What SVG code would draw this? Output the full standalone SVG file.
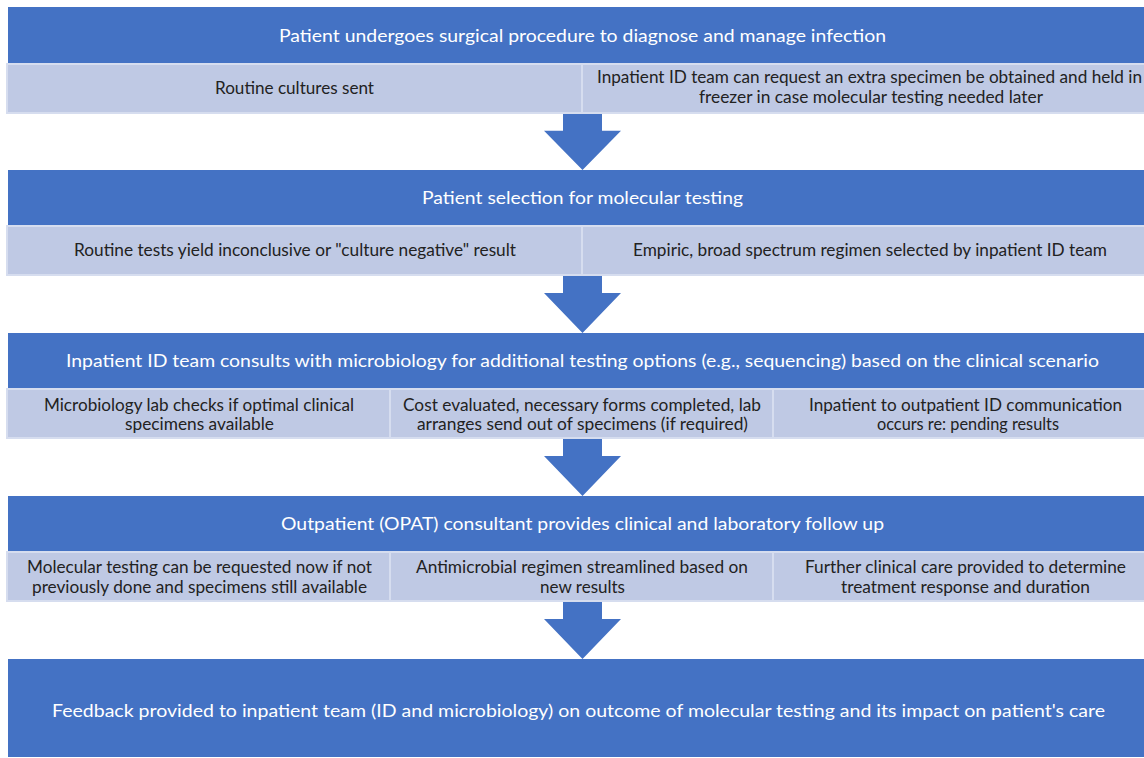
<svg xmlns="http://www.w3.org/2000/svg" width="1144" height="758" viewBox="0 0 1144 758">
  <style>
    .head { fill: #4472c4; }
    .cell { fill: #bfc9e4; stroke: #d6ddef; stroke-width: 2; }
    .ht { font-family: Lato, "Liberation Sans", sans-serif; font-size: 18px; fill: #ffffff; text-anchor: middle; }
    .ct { font-family: Lato, "Liberation Sans", sans-serif; font-size: 16.5px; fill: #222222; text-anchor: middle; }
    .arrow { fill: #4472c4; }
  </style>
  <defs>
    <!-- block arrow: shaft 39 wide, head 78 wide, total length 58 -->
    <path id="down" d="M -19.5 0 H 19.5 V 18 H 38.5 L 0 58 L -38.5 18 H -19.5 Z"/>
  </defs>
  <rect width="1144" height="758" fill="#ffffff"/>

  <!-- connectors -->
  <g id="connectors" class="arrow">
    <use href="#down" transform="translate(582.5,113) scale(1,0.983)"/>
    <use href="#down" transform="translate(582.5,275)"/>
    <use href="#down" transform="translate(582.5,438)"/>
    <use href="#down" transform="translate(582.5,601)"/>
  </g>

  <!-- step 1 -->
  <g id="step1">
    <rect class="head" x="8" y="7" width="1150" height="56"/>
    <text class="ht" x="582.5" y="41.5" textLength="607" lengthAdjust="spacingAndGlyphs">Patient undergoes surgical procedure to diagnose and manage infection</text>
  </g>
  <g id="step1-cultures">
    <rect class="cell" x="7" y="64" width="575" height="49"/>
    <text class="ct" x="294.5" y="94" textLength="159" lengthAdjust="spacingAndGlyphs">Routine cultures sent</text>
  </g>
  <g id="step1-freezer">
    <rect class="cell" x="582" y="64" width="580" height="49"/>
    <text class="ct" x="869.5" y="83" textLength="545" lengthAdjust="spacingAndGlyphs">Inpatient ID team can request an extra specimen be obtained and held in</text>
    <text class="ct" x="871" y="103" textLength="344" lengthAdjust="spacingAndGlyphs">freezer in case molecular testing needed later</text>
  </g>

  <!-- step 2 -->
  <g id="step2">
    <rect class="head" x="8" y="170" width="1150" height="55"/>
    <text class="ht" x="582.5" y="204" textLength="321" lengthAdjust="spacingAndGlyphs">Patient selection for molecular testing</text>
  </g>
  <g id="step2-inconclusive">
    <rect class="cell" x="7" y="226" width="575" height="49"/>
    <text class="ct" x="295" y="256" textLength="442" lengthAdjust="spacingAndGlyphs">Routine tests yield inconclusive or "culture negative" result</text>
  </g>
  <g id="step2-empiric">
    <rect class="cell" x="582" y="226" width="580" height="49"/>
    <text class="ct" x="870" y="256" textLength="474" lengthAdjust="spacingAndGlyphs">Empiric, broad spectrum regimen selected by inpatient ID team</text>
  </g>

  <!-- step 3 -->
  <g id="step3">
    <rect class="head" x="8" y="333" width="1150" height="55"/>
    <text class="ht" x="582.5" y="367" textLength="1033" lengthAdjust="spacingAndGlyphs">Inpatient ID team consults with microbiology for additional testing options (e.g., sequencing) based on the clinical scenario</text>
  </g>
  <g id="step3-specimens">
    <rect class="cell" x="7" y="389" width="383" height="49"/>
    <text class="ct" x="199" y="410.5" textLength="310" lengthAdjust="spacingAndGlyphs">Microbiology lab checks if optimal clinical</text>
    <text class="ct" x="199.5" y="430" textLength="149" lengthAdjust="spacingAndGlyphs">specimens available</text>
  </g>
  <g id="step3-cost">
    <rect class="cell" x="390" y="389" width="383" height="49"/>
    <text class="ct" x="582" y="410.5" textLength="358" lengthAdjust="spacingAndGlyphs">Cost evaluated, necessary forms completed, lab</text>
    <text class="ct" x="582.5" y="430" textLength="331" lengthAdjust="spacingAndGlyphs">arranges send out of specimens (if required)</text>
  </g>
  <g id="step3-communication">
    <rect class="cell" x="773" y="389" width="389" height="49"/>
    <text class="ct" x="965.5" y="410.5" textLength="313" lengthAdjust="spacingAndGlyphs">Inpatient to outpatient ID communication</text>
    <text class="ct" x="968" y="430" textLength="182" lengthAdjust="spacingAndGlyphs">occurs re: pending results</text>
  </g>

  <!-- step 4 -->
  <g id="step4">
    <rect class="head" x="8" y="496" width="1150" height="55"/>
    <text class="ht" x="582.5" y="530" textLength="603" lengthAdjust="spacingAndGlyphs">Outpatient (OPAT) consultant provides clinical and laboratory follow up</text>
  </g>
  <g id="step4-molecular">
    <rect class="cell" x="7" y="552" width="383" height="49"/>
    <text class="ct" x="199.5" y="573" textLength="345" lengthAdjust="spacingAndGlyphs">Molecular testing can be requested now if not</text>
    <text class="ct" x="199.5" y="593" textLength="335" lengthAdjust="spacingAndGlyphs">previously done and specimens still available</text>
  </g>
  <g id="step4-regimen">
    <rect class="cell" x="390" y="552" width="383" height="49"/>
    <text class="ct" x="582" y="573" textLength="332" lengthAdjust="spacingAndGlyphs">Antimicrobial regimen streamlined based on</text>
    <text class="ct" x="582.5" y="593" textLength="85" lengthAdjust="spacingAndGlyphs">new results</text>
  </g>
  <g id="step4-care">
    <rect class="cell" x="773" y="552" width="389" height="49"/>
    <text class="ct" x="965.5" y="573" textLength="321" lengthAdjust="spacingAndGlyphs">Further clinical care provided to determine</text>
    <text class="ct" x="965.5" y="593" textLength="249" lengthAdjust="spacingAndGlyphs">treatment response and duration</text>
  </g>

  <!-- step 5 -->
  <g id="step5">
    <rect class="head" x="8" y="659" width="1150" height="98"/>
    <text class="ht" x="578.5" y="717" textLength="1053" lengthAdjust="spacingAndGlyphs">Feedback provided to inpatient team (ID and microbiology) on outcome of molecular testing and its impact on patient's care</text>
  </g>
</svg>
